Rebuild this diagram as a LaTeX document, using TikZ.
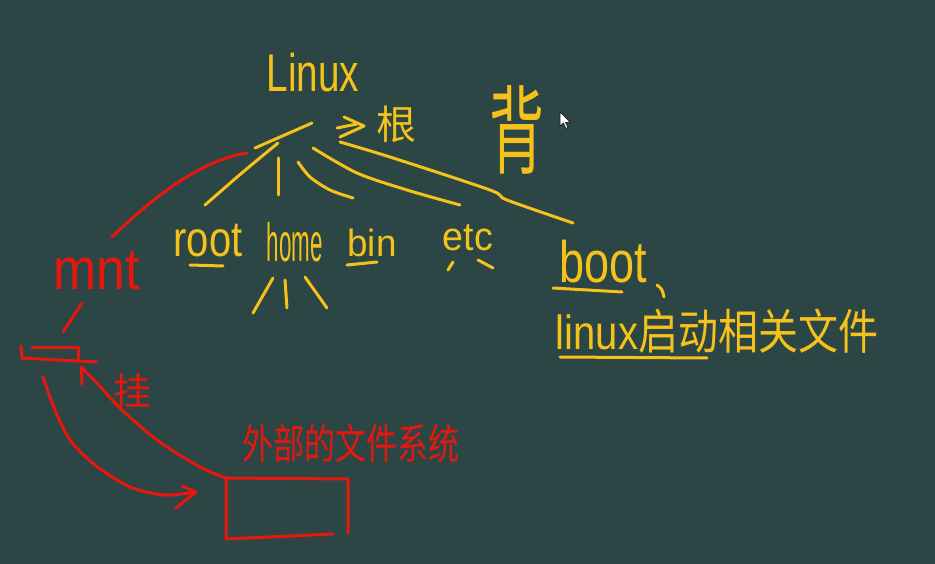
\documentclass[tikz,border=0pt]{standalone}
\usepackage{fontspec}
\setmainfont{Liberation Sans}
\newfontfamily\cjk{Noto Sans CJK SC}
\definecolor{board}{HTML}{2C4545}
\definecolor{chalkY}{HTML}{F4C21A}
\definecolor{chalkR}{HTML}{E8170E}
\tikzset{
 ystroke/.style={draw=chalkY, line width=3pt, line cap=round, line join=round},
 rstroke/.style={draw=chalkR, line width=3pt, line cap=round, line join=round},
 ytext/.style={text=chalkY, inner sep=0pt},
 rtext/.style={text=chalkR, inner sep=0pt},
}
\newcommand{\fsz}[1]{\fontsize{#1}{#1}\selectfont}
\begin{document}
\begin{tikzpicture}[x=1pt,y=-1pt]
\fill[board] (0,0) rectangle (935,564);
\useasboundingbox (0,0) rectangle (935,564);

% ---------- yellow texts ----------
\node[ytext] (linux) at (313,73) {\fsz{53}\scalebox{0.73}[1]{Linux}};
\node[ytext] (gen) at (396,124) {\cjk\fsz{40}根};
\node[ytext] (bei) at (517,130) {\cjk\fsz{55}\scalebox{1}[1.75]{背}};
\node[ytext] (root) at (208,241) {\fsz{40}\scalebox{1}[1.25]{root}};
\node[ytext] (home) at (295,242) {\fsz{40}\scalebox{0.56}[1.35]{home}};
\node[ytext] (bin) at (372,243) {\fsz{40}\scalebox{0.92}[0.95]{bin}};
\node[ytext] (etc) at (468,238) {\fsz{40}\scalebox{0.94}[1]{etc}};
\node[ytext] (boot) at (603,262) {\fsz{45}\scalebox{1}[1.3]{boot}};
\node[ytext] (bootdesc) at (717,331) {\fsz{40}\scalebox{1}[1.2]{linux\cjk 启动相关文件}};

% ---------- red texts ----------
\node[rtext] (mnt) at (97,271) {\fsz{45}\scalebox{1.15}[1.3]{mnt}};
\node[rtext] (gua) at (132,391) {\cjk\fsz{38}挂};
\node[rtext] (ext) at (351,443) {\cjk\fsz{31}\scalebox{1}[1.35]{外部的文件系统}};

% ---------- root symbol and arrow ----------
\coordinate (slashA) at (255,148);
\coordinate (slashB) at (312,123);
\draw[ystroke] (slashA) -- (slashB);
\draw[ystroke] (344,117) -- (364,126) -- (340,137);
\draw[ystroke] (337,128) -- (357,124);

% ---------- branches ----------
\coordinate (rootTop) at (205,205);
\coordinate (homeTop) at (278,195);
\coordinate (binTop) at (353,198);
\coordinate (etcTop) at (460,205);
\coordinate (bootTop) at (573,223);
\draw[ystroke] plot[smooth] coordinates {(278,143) (243,172) (rootTop)};
\draw[ystroke] (278,158) -- (homeTop);
\draw[ystroke] plot[smooth] coordinates {(298,162) (310,177) (330,190) (binTop)};
\draw[ystroke] plot[smooth] coordinates {(313,148) (357,173) (407,190) (etcTop)};
\draw[ystroke] plot[smooth] coordinates {(340,142) (390,157) (490,190) (507,200) (bootTop)};

% underlines and small marks
\draw[ystroke] (190,265) -- (223,266);
\draw[ystroke] (347,265) -- (377,262);
\draw[ystroke] (273,278) -- (253,313);
\draw[ystroke] (285,280) -- (287,308);
\draw[ystroke] (305,277) -- (327,308);
\draw[ystroke] (453,262) -- (448,270);
\draw[ystroke] (478,260) -- (493,268);
\draw[ystroke] (553,288) -- (622,292);
\draw[ystroke] (657,285) .. controls (662,289) .. (664,297);
\draw[ystroke] (560,357) -- (707,358);

% ---------- red part ----------
\coordinate (mntEnd) at (112,237);
\coordinate (rootSide) at (247,153);
\draw[rstroke] (mntEnd) .. controls (150,200) and (200,160) .. (rootSide);
\draw[rstroke] (82,303) -- (63,332);
% mount point
\draw[rstroke] (21,346) -- (22,358) -- (97,362);
\draw[rstroke] (32,347) -- (78,347) -- (78,361);
% storage box
\coordinate (boxTL) at (226,478);
\draw[rstroke] (boxTL) -- (348,479) -- (348,533);
\draw[rstroke] (boxTL) -- (226,539) -- (333,534);
% mount arrow (box -> mount point)
\coordinate (mountTip) at (81,367);
\draw[rstroke] plot[smooth] coordinates {(boxTL) (200,467) (157,440) (120,408) (97,383) (mountTip)};
\draw[rstroke] (mountTip) -- (82,384);
% arrow from mount point down to box
\coordinate (downStart) at (43,377);
\coordinate (downTip) at (196,492);
\draw[rstroke] plot[smooth] coordinates {(downStart) (55,410) (70,440) (95,465) (130,487) (165,495) (downTip)};
\draw[rstroke] (182,486) -- (downTip) -- (176,508);

% mouse cursor
\draw[fill=white, draw=black, line width=0.5pt] (560,112) -- (560,126) -- (563.5,123) -- (566,128.5) -- (568,127.5) -- (565.5,122.5) -- (570,122) -- cycle;
\end{tikzpicture}
\end{document}
